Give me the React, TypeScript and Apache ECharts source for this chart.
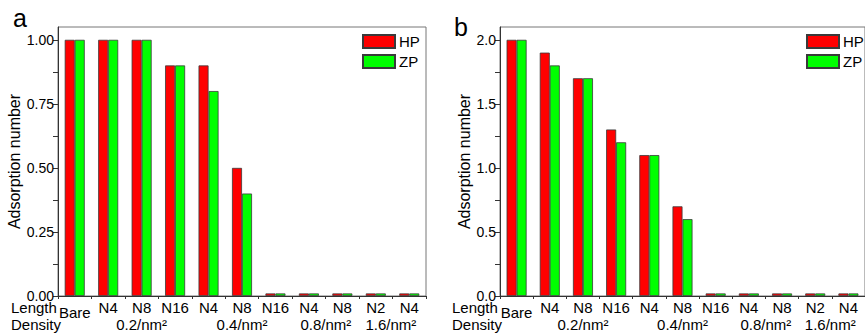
import React, { useEffect, useRef } from "react";
import * as echarts from "echarts";

const lengthLabels = ["Bare", "N4", "N8", "N16", "N4", "N8", "N16", "N4", "N8", "N2", "N4"];
const densityLabels = ["", "", "0.2/nm²", "", "", "0.4/nm²", "", "0.8/nm²", "", "1.6/nm²", ""];
const seriesNames = ["HP", "ZP"];
const hpA = [1.0, 1.0, 1.0, 0.9, 0.9, 0.5, 0.01, 0.01, 0.01, 0.01, 0.01];
const zpA = [1.0, 1.0, 1.0, 0.9, 0.8, 0.4, 0.01, 0.01, 0.01, 0.01, 0.01];
const hpB = [2.0, 1.9, 1.7, 1.3, 1.1, 0.7, 0.02, 0.02, 0.02, 0.02, 0.02];
const zpB = [2.0, 1.8, 1.7, 1.2, 1.1, 0.6, 0.02, 0.02, 0.02, 0.02, 0.02];
const yLabelsA = [0, 0.25, 0.5, 0.75, 1.0];
const yTicksA = [0, 0.125, 0.25, 0.375, 0.5, 0.625, 0.75, 0.875, 1.0];
const yLabelsB = [0, 0.5, 1.0, 1.5, 2.0];
const yTicksB = [0, 0.25, 0.5, 0.75, 1.0, 1.25, 1.5, 1.75, 2.0];

const FONT = "Liberation Sans, Arial, Helvetica, sans-serif";
const RED = "#ff0000";
const GREEN = "#00ff00";
const AXIS = "#333333";

// horizontal shift (px) of density labels relative to their category centre
const denShift: Record<number, number> = { 2: 0, 5: 0, 7: 17, 9: 15 };

const rich: any = {
  len: { fontSize: 15, lineHeight: 16, fontFamily: FONT, color: "#000" },
  bare: { fontSize: 15, lineHeight: 16, fontFamily: FONT, color: "#000", padding: [11, 0, 0, 0] },
};
Object.keys(denShift).forEach((k) => {
  const s = denShift[+k];
  rich["den" + k] = {
    fontSize: 15,
    lineHeight: 19,
    fontFamily: FONT,
    color: "#000",
    padding: s >= 0 ? [0, 0, 0, 2 * s] : [0, -2 * s, 0, 0],
  };
});

function xLabel(_v: string, i: number) {
  if (i === 0) return "{bare|" + lengthLabels[0] + "}";
  const d = densityLabels[i];
  return "{len|" + lengthLabels[i] + "}" + (d ? "\n{den" + i + "|" + d + "}" : "");
}

function makeX(gridIndex: number) {
  return {
    type: "category",
    gridIndex,
    data: lengthLabels,
    boundaryGap: true,
    axisLine: { lineStyle: { color: AXIS, width: 1 } },
    axisTick: { show: true, alignWithLabel: false, length: 3, lineStyle: { color: AXIS } },
    axisLabel: { interval: 0, margin: 3, formatter: xLabel, rich },
  };
}

function makeY(gridIndex: number, max: number, labels: number[], ticks: number[], digits: number, gap: number) {
  return {
    type: "value",
    gridIndex,
    min: 0,
    max,
    name: "Adsorption number",
    nameLocation: "middle",
    nameGap: gap,
    nameTextStyle: { fontSize: 16, fontFamily: FONT, color: "#000" },
    splitLine: { show: false },
    axisLine: { show: true, lineStyle: { color: AXIS, width: 1 } },
    axisTick: { show: true, length: 5, customValues: ticks, lineStyle: { color: AXIS } },
    axisLabel: {
      customValues: labels,
      margin: 4,
      fontSize: 14,
      fontFamily: FONT,
      color: "#000",
      formatter: (v: number) => v.toFixed(digits),
    },
  };
}

function makeBar(name: string, color: string, data: number[], idx: number) {
  return {
    type: "bar",
    name,
    xAxisIndex: idx,
    yAxisIndex: idx,
    data,
    barWidth: 10,
    barGap: "0%",
    itemStyle: { color, borderColor: "#3a3a3a", borderWidth: 0.8 },
  };
}

function makeLegend(left: number) {
  return {
    left,
    top: 34,
    padding: 0,
    orient: "vertical",
    icon: "rect",
    itemWidth: 32,
    itemHeight: 13,
    itemGap: 5,
    data: seriesNames,
    textStyle: { fontSize: 15, fontFamily: FONT, color: "#000", padding: [0, 0, 0, -1] },
    selectedMode: false,
  };
}

export default function App() {
  const ref = useRef<HTMLDivElement>(null);
  useEffect(() => {
    if (!ref.current) return;
    const chart = echarts.init(ref.current, null, { renderer: "svg" });
    chart.setOption({
      animation: false,
      backgroundColor: "#ffffff",
      textStyle: { fontFamily: FONT },
      grid: [
        { left: 58, top: 27, width: 368, height: 269, show: true, borderColor: "#777", borderWidth: 1, backgroundColor: "transparent" },
        { left: 500, top: 27, width: 374, height: 269, show: true, borderColor: "#777", borderWidth: 1, backgroundColor: "transparent" },
      ],
      xAxis: [makeX(0), makeX(1)],
      yAxis: [
        makeY(0, 1.05, yLabelsA, yTicksA, 2, 29),
        makeY(1, 2.1, yLabelsB, yTicksB, 1, 28),
      ],
      legend: [makeLegend(362), makeLegend(806)],
      series: [
        makeBar(seriesNames[0], RED, hpA, 0),
        makeBar(seriesNames[1], GREEN, zpA, 0),
        makeBar(seriesNames[0], RED, hpB, 1),
        makeBar(seriesNames[1], GREEN, zpB, 1),
      ],
      graphic: [
        { type: "text", left: 13, top: 5, style: { text: "a", fontSize: 25, fontFamily: FONT, fill: "#000" } },
        { type: "text", left: 454, top: 14, style: { text: "b", fontSize: 25, fontFamily: FONT, fill: "#000" } },
        { type: "text", left: 11, top: 300, style: { text: "Length", fontSize: 15, fontFamily: FONT, fill: "#000" } },
        { type: "text", left: 11, top: 317, style: { text: "Density", fontSize: 15, fontFamily: FONT, fill: "#000" } },
        { type: "text", left: 452, top: 300, style: { text: "Length", fontSize: 15, fontFamily: FONT, fill: "#000" } },
        { type: "text", left: 452, top: 317, style: { text: "Density", fontSize: 15, fontFamily: FONT, fill: "#000" } },
      ],
    });
    return () => chart.dispose();
  }, []);
  return (
    <div
      ref={ref}
      style={{ position: "fixed", left: 0, top: 0, width: 865, height: 333, background: "#fff" }}
    />
  );
}
